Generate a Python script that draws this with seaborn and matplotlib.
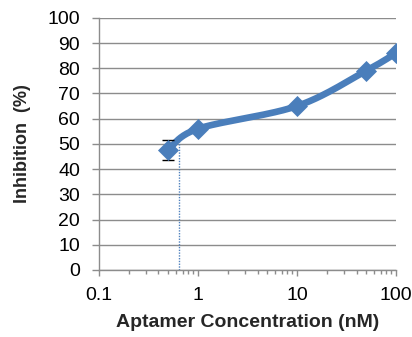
import numpy as np
import pandas as pd
import matplotlib
matplotlib.use("Agg")
import matplotlib.pyplot as plt
import seaborn as sns
from matplotlib.ticker import FixedLocator, LogLocator, NullFormatter

# Data
conc = [0.5, 1, 10, 50, 100]
inhibition = [47.5, 56, 65, 79, 86]
err_conc = [0.5]
err_val = [4.0]
ic50_x = 0.65
ic50_y = 52
xticks = [0.1, 1, 10, 100]
xticklabels = ["0.1", "1", "10", "100"]
yticks = list(range(0, 101, 10))

sns.set_style("white")
plt.rcParams['font.family'] = ['Liberation Sans', 'DejaVu Sans']

fig = plt.figure(figsize=(4.12, 3.37), dpi=100)
ax = fig.add_axes([0.240, 0.199, 0.721, 0.748])
ax.set_xscale("log")

blue = "#4A7EBB"

# Excel-like smoothed line (Catmull-Rom in display-scaled coordinates)
u = np.log10(np.array(conc)) * 99.0
v = np.array(inhibition) * 2.52
P = np.column_stack([u, v])
Pext = np.vstack([P[0], P, P[-1]])
pts = []
for i in range(1, len(Pext) - 2):
    p0, p1, p2, p3 = Pext[i - 1], Pext[i], Pext[i + 1], Pext[i + 2]
    t = np.linspace(0, 1, 40)[:, None]
    c1 = p1 + (p2 - p0) / 6.0
    c2 = p2 - (p3 - p1) / 6.0
    b = ((1 - t) ** 3) * p1 + 3 * ((1 - t) ** 2) * t * c1 + 3 * (1 - t) * t ** 2 * c2 + t ** 3 * p2
    pts.append(b)
curve = np.vstack(pts)
smooth = pd.DataFrame({"x": 10 ** (curve[:, 0] / 99.0), "y": curve[:, 1] / 2.52})

ax.plot([ic50_x, ic50_x], [0, ic50_y], color="#4F81BD", lw=1.0, ls=(0, (1, 1)), zorder=2)
sns.lineplot(data=smooth, x="x", y="y", sort=False, ax=ax, color=blue, lw=4.8,
             estimator=None, zorder=3)
ax.errorbar(err_conc, [inhibition[0]], yerr=err_val, fmt="none", ecolor="black",
            elinewidth=1.0, capsize=4, capthick=1.0, zorder=4)
df = pd.DataFrame({"x": conc, "y": inhibition})
sns.scatterplot(data=df, x="x", y="y", ax=ax, marker="D", s=115, color=blue,
                edgecolor=blue, linewidth=0, zorder=5)

ax.set_xlim(0.1, 100)
ax.set_ylim(0, 100)
ax.xaxis.set_major_locator(FixedLocator(xticks))
ax.set_xticklabels(xticklabels)
ax.xaxis.set_minor_locator(LogLocator(base=10, subs=np.arange(2, 10)))
ax.xaxis.set_minor_formatter(NullFormatter())
ax.set_yticks(yticks)

ax.grid(axis="y", color="#8C8C8C", lw=1.0)
ax.grid(axis="x", visible=False)
ax.set_axisbelow(True)
for s in ["top", "right"]:
    ax.spines[s].set_visible(False)
for s in ["left", "bottom"]:
    ax.spines[s].set_color("#8C8C8C")
    ax.spines[s].set_linewidth(1.0)

ax.tick_params(axis="both", which="both", direction="out", color="#8C8C8C",
               labelsize=14, labelcolor="black")
ax.tick_params(axis="x", which="major", length=4, width=1, pad=8.5, bottom=True)
ax.tick_params(axis="x", which="minor", length=3, width=1, bottom=True)
ax.tick_params(axis="y", which="major", length=5, width=1, left=True, pad=8.5)

ax.set_xlabel("Aptamer Concentration (nM)", fontsize=14, fontweight="bold", labelpad=7)
ax.set_ylabel("Inhibition  (%)", fontsize=13, fontweight="bold", labelpad=12)

fig.savefig("out.png", dpi=100)
